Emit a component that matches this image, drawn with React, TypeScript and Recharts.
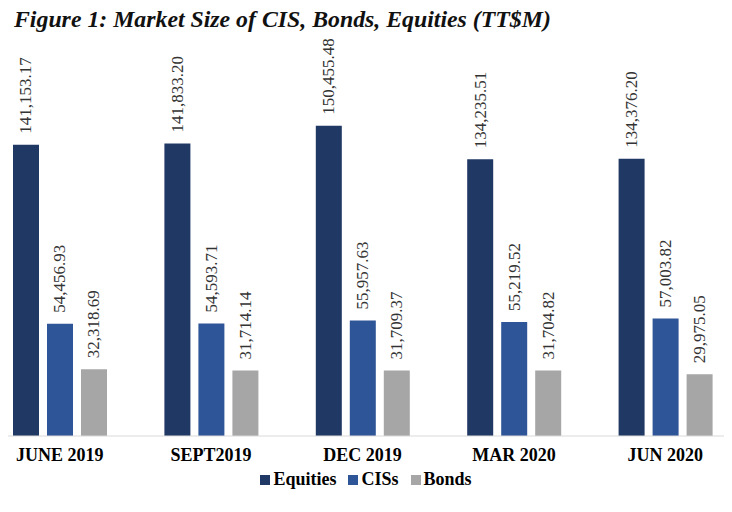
import React from "react";
import { BarChart, Bar, XAxis, YAxis, LabelList } from "recharts";

const periods = ["JUNE 2019", "SEPT2019", "DEC 2019", "MAR 2020", "JUN 2020"];
const equities = [141153.17, 141833.2, 150455.48, 134235.51, 134376.2];
const ciss = [54456.93, 54593.71, 55957.63, 55219.52, 57003.82];
const bonds = [32318.69, 31714.14, 31709.37, 31704.82, 29975.05];

const series = [
  { key: "equities", name: "Equities", color: "#203864" },
  { key: "ciss", name: "CISs", color: "#2e5597" },
  { key: "bonds", name: "Bonds", color: "#a6a6a6" },
];

const data = periods.map((p, i) => ({
  period: p,
  equities: equities[i],
  ciss: ciss[i],
  bonds: bonds[i],
}));

const serif = "'Liberation Serif', 'Times New Roman', serif";

const fmt = (v: number) =>
  v.toLocaleString("en-US", { minimumFractionDigits: 2, maximumFractionDigits: 2 });

const ValueLabel = (props: any) => {
  const { x, y, width, value } = props;
  const cx = x + width / 2;
  const cy = y - 11;
  return (
    <text
      x={cx}
      y={cy}
      transform={`rotate(-90, ${cx}, ${cy})`}
      textAnchor="start"
      dominantBaseline="central"
      fontFamily={serif}
      fontSize={17}
      fill="#333"
    >
      {fmt(value)}
    </text>
  );
};

const PeriodTick = (props: any) => {
  const { x, y, payload } = props;
  return (
    <text
      x={x}
      y={y + 17}
      textAnchor="middle"
      fontFamily={serif}
      fontWeight="bold"
      fontSize={18}
      fill="#000"
    >
      {payload.value}
    </text>
  );
};

export default function App() {
  return (
    <div
      style={{
        position: "relative",
        width: 732,
        height: 512,
        margin: -8,
        overflow: "hidden",
        background: "#fff",
      }}
    >
      <div
        style={{
          position: "absolute",
          left: 14,
          top: 6,
          fontFamily: serif,
          fontStyle: "italic",
          fontWeight: "bold",
          fontSize: 23.8,
          color: "#111",
          whiteSpace: "nowrap",
        }}
      >
        Figure 1: Market Size of CIS, Bonds, Equities (TT$M)
      </div>
      <div style={{ position: "absolute", left: -16, top: 0 }}>
        <BarChart
          width={757}
          height={512}
          data={data}
          margin={{ top: 106, right: 0, bottom: 46, left: 0 }}
          barSize={26}
          barGap={8}
        >
          <XAxis
            dataKey="period"
            tickLine={false}
            axisLine={{ stroke: "#d9d9d9" }}
            tick={<PeriodTick />}
            interval={0}
          />
          <YAxis hide domain={[0, 160000]} />
          {series.map((s) => (
            <Bar key={s.key} dataKey={s.key} name={s.name} fill={s.color} isAnimationActive={false}>
              <LabelList dataKey={s.key} content={<ValueLabel />} />
            </Bar>
          ))}
        </BarChart>
      </div>
      <div
        style={{
          position: "absolute",
          left: 0,
          width: 732,
          top: 469,
          display: "flex",
          justifyContent: "center",
          fontFamily: serif,
          fontWeight: "bold",
          fontSize: 18,
          color: "#000",
        }}
      >
        {series.map((s) => (
          <span key={s.key} style={{ display: "flex", alignItems: "center", margin: "0 6px" }}>
            <span
              style={{ width: 10, height: 10, background: s.color, display: "inline-block", marginRight: 3 }}
            />
            {s.name}
          </span>
        ))}
      </div>
    </div>
  );
}
